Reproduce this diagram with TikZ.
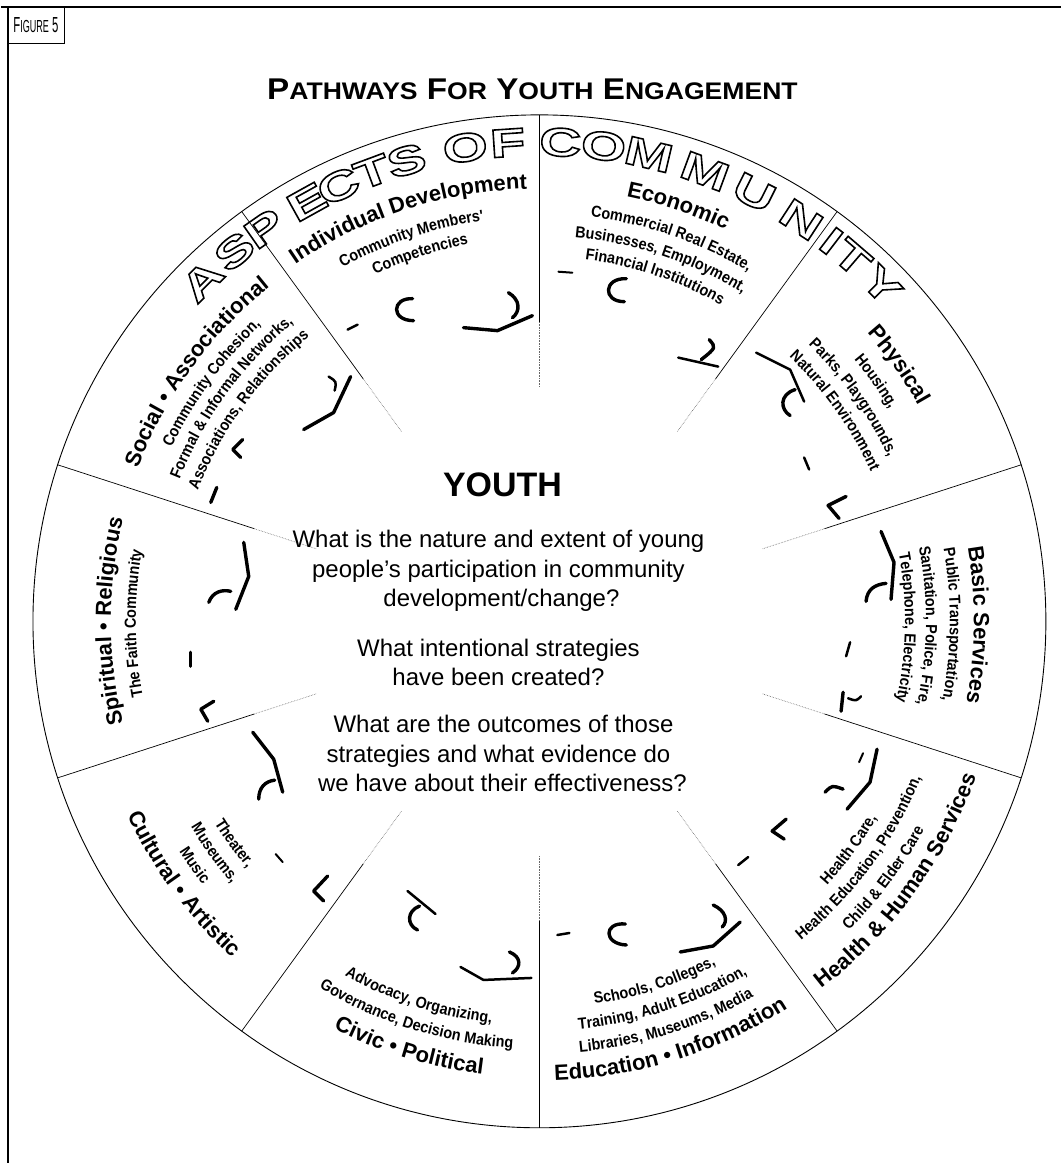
\documentclass[tikz,border=0pt]{standalone}
\usepackage{fontspec}
\setmainfont{Liberation Sans}
\newfontfamily\secfont{Liberation Sans}
\newfontfamily\subfontx[FakeStretch=0.9]{Liberation Sans}
\newfontfamily\widefont[FakeStretch=1.45]{Liberation Sans}
\newfontfamily\figfont[FakeStretch=0.85]{Liberation Sans}
\usetikzlibrary{decorations.text}
\newcommand\fmtT{\secfont\bfseries\fontsize{22}{24}\selectfont}
\newcommand\fmtS{\subfontx\bfseries\fontsize{16}{18}\selectfont}
\newcommand\cwtext[4]{\path[decorate,decoration={text along path,text align=center,text={|#3|#4}}] ({#2+45}:#1pt) arc[start angle={#2+45},end angle={#2-45},radius=#1pt];}
\newcommand\ccwtext[4]{\path[decorate,decoration={text along path,text align=center,text={|#3|#4}}] ({#2-45}:#1pt) arc[start angle={#2-45},end angle={#2+45},radius=#1pt];}
\newcommand\hollowch[1]{\special{pdf:literal direct 1 Tr 1.6 w}#1\special{pdf:literal direct 0 Tr}}
\tikzset{
  rim/.style={line width=0.9pt},
  spoke/.style={line width=0.7pt},
  spokefade/.style={line width=0.6pt, densely dotted, black!60},
  brush/.style={line width=3.4pt, line cap=round, line join=round},
  qtext/.style={font=\fontsize{24}{29}\selectfont, inner sep=0pt, anchor=base},
  wideletter/.style={font=\widefont\bfseries\fontsize{40}{42}\selectfont, inner sep=0pt}
}
\begin{document}
\begin{tikzpicture}[x=1pt,y=1pt]
\begin{scope}[shift={(-539,622)}, yscale=-1]
  \useasboundingbox (0,0) rectangle (1061,1164);
  \fill[white] (0,0) rectangle (1061,1164);
\end{scope}

% ---- wheel ----
\draw[rim] (0,0) circle[radius=507pt];
\foreach \a in {90,54,18,-18,-54,-90,-126,-162,162,126}{
  \draw[spoke] (\a:300pt) -- (\a:507pt);
  \draw[spokefade] (\a:235pt) -- (\a:300pt);
}

% ---- ASPECTS OF COMMUNITY (outlined letters) ----
\foreach \ch/\ang [count=\i] in {A/134.7,S/129.5,P/125.0,E/119.0,C/114.8,T/110.4,S/106.1,O/98.9,F/93.8,C/87.5,O/82.3,M/76.8,M/69.8,U/63.4,N/56.9,I/52.5,T/49.3,Y/44.5}{
  \node[wideletter, rotate=\ang-90] (asp\i) at (\ang:480pt) {\hollowch{\ch}};
}

% ---- sector texts (upper: clockwise, tops outward) ----
\cwtext{433}{108}{\fmtT}{Individual Development}
\cwtext{405}{108.5}{\fmtS}{Community Members'}
\cwtext{384}{108}{\fmtS}{Competencies}

\cwtext{434}{71.5}{\fmtT}{Economic}
\cwtext{408}{71}{\fmtS}{Commercial Real Estate,}
\cwtext{386}{71.5}{\fmtS}{Businesses, Employment,}
\cwtext{365}{71.5}{\fmtS}{Financial Institutions}

\cwtext{437}{35.5}{\fmtT}{Physical}
\cwtext{410}{35.5}{\fmtS}{Housing,}
\cwtext{386}{35.5}{\fmtS}{Parks, Playgrounds,}
\cwtext{364}{35.5}{\fmtS}{Natural Environment}

\cwtext{435}{-0.5}{\fmtT}{Basic Services}
\cwtext{411}{-0.5}{\fmtS}{Public Transportation,}
\cwtext{387}{-0.7}{\fmtS}{Sanitation, Police, Fire,}
\cwtext{366}{-1}{\fmtS}{Telephone, Electricity}

\cwtext{430}{144}{\fmtT}{Social • Associational}
\cwtext{407}{144}{\fmtS}{Community Cohesion,}
\cwtext{387}{144}{\fmtS}{Formal {\&} Informal Networks,}
\cwtext{366}{144}{\fmtS}{Associations, Relationships}

\cwtext{429}{180}{\fmtT}{Spiritual • Religious}
\cwtext{404}{180.3}{\fmtS}{The Faith Community}

% ---- sector texts (lower: counter-clockwise, tops inward) ----
\ccwtext{464}{-36}{\fmtT}{Health {\&} Human Services}
\ccwtext{438}{-36.7}{\fmtS}{Child {\&} Elder Care}
\ccwtext{413}{-36.5}{\fmtS}{Health Education, Prevention,}
\ccwtext{391}{-36.4}{\fmtS}{Health Care,}

\ccwtext{460}{-72.7}{\fmtT}{Education • Information}
\ccwtext{433}{-72.5}{\fmtS}{Libraries, Museums, Media}
\ccwtext{410}{-72}{\fmtS}{Training, Adult Education,}
\ccwtext{387}{-72.3}{\fmtS}{Schools, Colleges,}

\ccwtext{457}{-107}{\fmtT}{Civic • Political}
\ccwtext{428}{-107.3}{\fmtS}{Governance, Decision Making}
\ccwtext{405}{-107.8}{\fmtS}{Advocacy, Organizing,}

\ccwtext{456}{-143.6}{\fmtT}{Cultural • Artistic}
\ccwtext{428}{-144.7}{\fmtS}{Music}
\ccwtext{405}{-144.5}{\fmtS}{Museums,}
\ccwtext{383}{-144}{\fmtS}{Theater,}

% ---- pixel-coordinate layer ----
\begin{scope}[shift={(-539,622)}, yscale=-1]
  % frame
  \draw[line width=2pt] (0,7) -- (1061,7);
  \draw[line width=2.5pt] (7,7) -- (7,1164);
  \node[draw, line width=1.5pt, minimum width=56pt, minimum height=36pt, inner sep=0pt, anchor=north west] (figbox) at (7,7) {};
  \node[anchor=base, inner sep=0pt] (figlabel) at (35,33)
    {\resizebox{45pt}{15pt}{\figfont{\fontsize{20}{22}\selectfont F}{\fontsize{16}{18}\selectfont IGURE}{\fontsize{20}{22}\selectfont\ 5}}};
  \node[anchor=base, inner sep=0pt] (title) at (532,100)
    {\resizebox{531pt}{\height}{\bfseries{\fontsize{30}{32}\selectfont P}{\fontsize{24}{26}\selectfont ATHWAYS}{\fontsize{30}{32}\selectfont\ F}{\fontsize{24}{26}\selectfont OR}{\fontsize{30}{32}\selectfont\ Y}{\fontsize{24}{26}\selectfont OUTH}{\fontsize{30}{32}\selectfont\ E}{\fontsize{24}{26}\selectfont NGAGEMENT}}};

  % centre texts
  \node[anchor=base, inner sep=0pt, font=\bfseries\fontsize{34}{36}\selectfont] (youth) at (502,497) {YOUTH};
  \node[qtext] (q1a) at (498,548) {What is the nature and extent of young};
  \node[qtext] (q1b) at (498,578) {people's participation in community};
  \node[qtext] (q1c) at (501,607) {development/change?};
  \node[qtext] (q2a) at (498,657) {What intentional strategies};
  \node[qtext] (q2b) at (498,686) {have been created?};
  \node[qtext] (q3a) at (503,733) {What are the outcomes of those};
  \node[qtext] (q3b) at (498,763) {strategies and what evidence do};
  \node[qtext] (q3c) at (502,792) {we have about their effectiveness?};

  % brush marks
  \draw[brush] (412,299) .. controls (391,298) and (390,321) .. (413,321);
  \draw[brush] (508,293) .. controls (520,300) and (520,312) .. (512,318);
  \draw[brush] (463,328) -- (497,331) -- (532,316);
  \draw[brush, line width=2.5pt] (347,330) -- (357,325);
  \draw[brush] (626,279) .. controls (603,278) and (602,302) .. (624,302);
  \draw[brush, line width=2pt] (558,272) -- (572,273);
  \draw[brush] (709,340) .. controls (716,348) .. (701,360);
  \draw[brush, line width=2.5pt] (678,358) -- (718,367);
  \draw[brush, line width=2.5pt] (756,353) -- (790,370) -- (804,402);
  \draw[brush] (795,390) .. controls (779,395) and (780,410) .. (790,416);
  \draw[brush, line width=2.5pt] (804,458) -- (809,470);
  \draw[brush] (846,497) -- (828,506) -- (839,519);
  \draw[brush] (881,532) -- (894,563) -- (891,600);
  \draw[brush] (866,602) .. controls (867,590) and (875,585) .. (886,584);
  \draw[brush, line width=2.5pt] (850,643) -- (846,657);
  \draw[brush] (843,693) -- (841,712);
  \draw[brush, line width=2.5pt] (848,699) .. controls (856,702) .. (861,697);
  \draw[brush] (877,750) -- (870,783) -- (847,810);
  \draw[brush] (825,793) .. controls (832,786) .. (843,790);
  \draw[brush, line width=2pt] (863,754) -- (859,763);
  \draw[brush] (786,820) -- (772,832) -- (784,840);
  \draw[brush, line width=2.5pt] (738,866) -- (748,858);
  \draw[brush] (713,906) .. controls (726,912) and (728,922) .. (722,928);
  \draw[brush] (680,953) -- (713,947) -- (740,923);
  \draw[brush] (625,925) .. controls (603,923) and (603,945) .. (626,946);
  \draw[brush, line width=2.5pt] (557,936) -- (569,934);
  \draw[brush] (509,953) .. controls (521,958) and (521,968) .. (512,974);
  \draw[brush, line width=2.5pt] (460,968) -- (483,981) -- (531,979);
  \draw[brush] (419,907) .. controls (406,912) and (406,926) .. (417,931);
  \draw[brush, line width=2.5pt] (407,892) -- (435,915);
  \draw[brush] (327,877) -- (313,892) -- (323,902);
  \draw[brush, line width=2pt] (275,855) -- (282,863);
  \draw[brush] (252,733) -- (273,760) -- (282,793);
  \draw[brush] (258,800) .. controls (258,788) and (265,782) .. (274,781);
  \draw[brush] (213,702) -- (200,710) -- (207,722);
  \draw[brush] (190,653) -- (190,667);
  \draw[brush] (243,543) -- (248,577) -- (235,610);
  \draw[brush] (208,603) .. controls (212,592) and (222,590) .. (230,592);
  \draw[brush] (216,488) -- (210,503);
  \draw[brush] (242,440) -- (232,450) -- (240,458);
  \draw[brush] (303,430) -- (333,413) -- (350,377);
  \draw[brush, line width=2.5pt] (328,377) .. controls (336,382) .. (334,391);
\end{scope}
\end{tikzpicture}
\end{document}
